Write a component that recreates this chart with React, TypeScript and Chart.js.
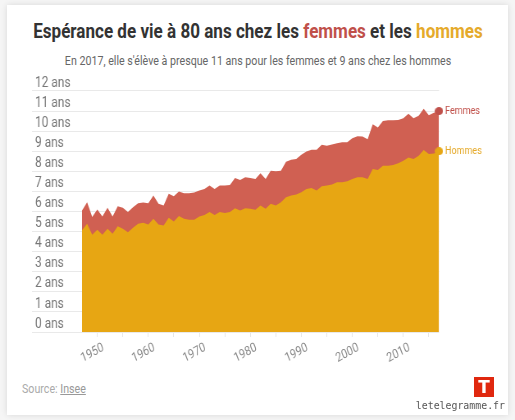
import React, { useEffect, useRef } from "react";
import { Chart, registerables } from "chart.js";

Chart.register(...registerables);

const years = [
  1947, 1948, 1949, 1950, 1951, 1952, 1953, 1954, 1955, 1956, 1957, 1958,
  1959, 1960, 1961, 1962, 1963, 1964, 1965, 1966, 1967, 1968, 1969, 1970,
  1971, 1972, 1973, 1974, 1975, 1976, 1977, 1978, 1979, 1980, 1981, 1982,
  1983, 1984, 1985, 1986, 1987, 1988, 1989, 1990, 1991, 1992, 1993, 1994,
  1995, 1996, 1997, 1998, 1999, 2000, 2001, 2002, 2003, 2004, 2005, 2006,
  2007, 2008, 2009, 2010, 2011, 2012, 2013, 2014, 2015, 2016, 2017,
];
const femmes = [
  6.05, 6.46, 5.72, 6.1, 5.75, 6.18, 5.75, 6.26, 6.18, 5.97, 6.21, 6.41,
  6.45, 6.41, 6.79, 6.38, 6.3, 6.88, 6.76, 6.99, 6.91, 6.91, 6.95, 7.05,
  7.12, 7.29, 7.12, 7.29, 7.29, 7.32, 7.67, 7.57, 7.7, 7.67, 7.62, 7.9,
  7.62, 8.03, 8.0, 8.03, 8.48, 8.58, 8.61, 8.82, 8.99, 9.07, 9.07, 9.32,
  9.27, 9.34, 9.4, 9.45, 9.44, 9.64, 9.75, 9.73, 9.6, 10.34, 10.18, 10.51,
  10.54, 10.54, 10.56, 10.64, 10.87, 10.64, 10.76, 11.12, 10.79, 10.92, 11.0,
];
const hommes = [
  5.06, 5.39, 4.84, 5.09, 4.84, 5.14, 4.89, 5.26, 5.14, 4.97, 5.19, 5.39,
  5.44, 5.35, 5.64, 5.35, 5.3, 5.69, 5.5, 5.77, 5.64, 5.59, 5.59, 5.75,
  5.83, 5.97, 5.83, 5.97, 5.92, 5.97, 6.16, 6.05, 6.16, 6.13, 6.08, 6.3,
  6.13, 6.38, 6.3, 6.46, 6.71, 6.79, 6.84, 6.96, 7.12, 7.17, 7.04, 7.25,
  7.29, 7.34, 7.45, 7.45, 7.5, 7.62, 7.7, 7.7, 7.62, 8.11, 8.07, 8.28,
  8.28, 8.31, 8.4, 8.53, 8.69, 8.61, 8.78, 9.06, 8.86, 8.89, 9.0,
];
const yTicks = [0, 1, 2, 3, 4, 5, 6, 7, 8, 9, 10, 11, 12];
const titleParts = [
  { text: "Espérance de vie à 80 ans chez les ", color: "#333" },
  { text: "femmes", color: "#c0504a" },
  { text: " et les ", color: "#333" },
  { text: "hommes", color: "#e5aa2b" },
];
const subtitle = "En 2017, elle s'élève à presque 11 ans pour les femmes et 9 ans chez les hommes";
const FONT = "Roboto, sans-serif";
const K = 0.82;

const condensed = (center: number, k: number): React.CSSProperties => ({
  position: "absolute",
  left: center,
  whiteSpace: "nowrap",
  transform: `translateX(-50%) scaleX(${k})`,
});

function dot(color: string, r: number) {
  const c = document.createElement("canvas");
  c.width = Math.round((2 * r) / K);
  c.height = 2 * r;
  const g = c.getContext("2d")!;
  g.fillStyle = color;
  g.beginPath();
  g.ellipse(c.width / 2, r, c.width / 2, r, 0, 0, Math.PI * 2);
  g.fill();
  return c;
}

const endLabels = {
  id: "endLabels",
  afterDatasetsDraw(chart: any) {
    const { ctx } = chart;
    chart.data.datasets.forEach((ds: any, i: number) => {
      const el = chart.getDatasetMeta(i).data[ds.data.length - 1];
      ctx.save();
      ctx.font = `11px ${FONT}`;
      ctx.fillStyle = ds.labelColor;
      ctx.textBaseline = "middle";
      ctx.fillText(ds.label, el.x + 6 / K, el.y);
      ctx.restore();
    });
  },
};

export default function App() {
  const ref = useRef<HTMLCanvasElement>(null);
  useEffect(() => {
    const last = femmes.length - 1;
    const chart = new Chart(ref.current!, {
      type: "line",
      data: {
        labels: years,
        datasets: [
          {
            label: "Femmes",
            order: 1,
            clip: false,
            data: femmes,
            borderWidth: 0,
            backgroundColor: "#d06052",
            fill: "origin",
            tension: 0,
            labelColor: "#c0504a",
            pointStyle: dot("#c0504a", 4),
            pointRadius: femmes.map((_, i) => (i === last ? 4 : 0)),
            pointBorderWidth: 0,
          } as any,
          {
            label: "Hommes",
            order: 0,
            clip: false,
            data: hommes,
            borderWidth: 0,
            backgroundColor: "#e7a613",
            fill: "origin",
            tension: 0,
            labelColor: "#e5aa2b",
            pointStyle: dot("#e7a613", 4),
            pointRadius: hommes.map((_, i) => (i === last ? 4 : 0)),
            pointBorderWidth: 0,
          } as any,
        ],
      },
      options: {
        animation: false,
        responsive: false,
        layout: { padding: { left: 3 / K, right: 53 / K } },
        plugins: { legend: { display: false }, tooltip: { enabled: false } },
        scales: {
          x: {
            offset: false,
            afterFit: (s: any) => {
              s.height = 48;
            },
            border: { display: false },
            grid: {
              drawOnChartArea: false,
              tickLength: 5,
              tickColor: (c: any) =>
                years[c.index] % 5 === 0 ? "#e6e6e6" : "transparent",
            },
            ticks: {
              autoSkip: false,
              minRotation: 25,
              maxRotation: 25,
              labelOffset: 6 / K,
              color: "#8a8a8a",
              font: { family: FONT, size: 13 },
              callback: (_v: any, i: number) =>
                years[i] % 10 === 0 ? String(years[i]) : "",
            },
          },
          y: {
            min: 0,
            max: 12,
            afterFit: (s: any) => {
              s.width = 47 / K;
            },
            border: { display: false },
            grid: { color: "#e9e9e9", tickLength: 50 / K, tickColor: "#e9e9e9" },
            afterBuildTicks: (s: any) => {
              s.ticks = yTicks.map((value) => ({ value }));
            },
            ticks: {
              autoSkip: false,
              crossAlign: "far",
              color: "#777",
              font: { family: FONT, size: 14.5, lineHeight: 1.1 },
              callback: (v: any) => [`${v} ans`, " "],
            },
          },
        },
      },
      plugins: [endLabels],
    } as any);
    return () => chart.destroy();
  }, []);

  return (
    <div style={{ position: "absolute", left: 0, top: 0, width: 515, height: 420, background: "#f5f5f5", overflow: "hidden", fontFamily: FONT }}>
      <div style={{ position: "absolute", left: 7, top: 5, width: 501, height: 410, background: "#fff", boxShadow: "0 0 6px rgba(0,0,0,0.12)" }} />
      <div style={{ ...condensed(257.5, 0.853), top: 19, fontSize: 20, fontWeight: 700, lineHeight: "24px" }}>
        {titleParts.map((p) => (
          <span key={p.text} style={{ color: p.color, whiteSpace: "pre" }}>{p.text}</span>
        ))}
      </div>
      <div style={{ ...condensed(257.5, K), top: 53, fontSize: 13, color: "#666", lineHeight: "16px" }}>
        {subtitle}
      </div>
      <canvas
        ref={ref}
        width={Math.round(460 / K)}
        height={308}
        style={{ position: "absolute", left: 32, top: 72, transform: `scaleX(${K})`, transformOrigin: "0 0" }}
      />
      <div style={{ position: "absolute", left: 22, top: 381, fontSize: 13, color: "#aaa", lineHeight: "16px", transform: `scaleX(${K})`, transformOrigin: "0 0", whiteSpace: "nowrap" }}>
        Source: <a href="#" style={{ color: "#999" }}>Insee</a>
      </div>
      <div style={{ position: "absolute", left: 474, top: 377, width: 20, height: 20, background: "#e0280f", color: "#fff", fontFamily: "Roboto, sans-serif", fontWeight: 900, fontSize: 19, lineHeight: "20px", textAlign: "center" }}>T</div>
      <div style={{ position: "absolute", right: 10, top: 399, fontFamily: '"DejaVu Sans Mono", monospace', fontSize: 9.9, color: "#555", lineHeight: "14px" }}>letelegramme.fr</div>
    </div>
  );
}
